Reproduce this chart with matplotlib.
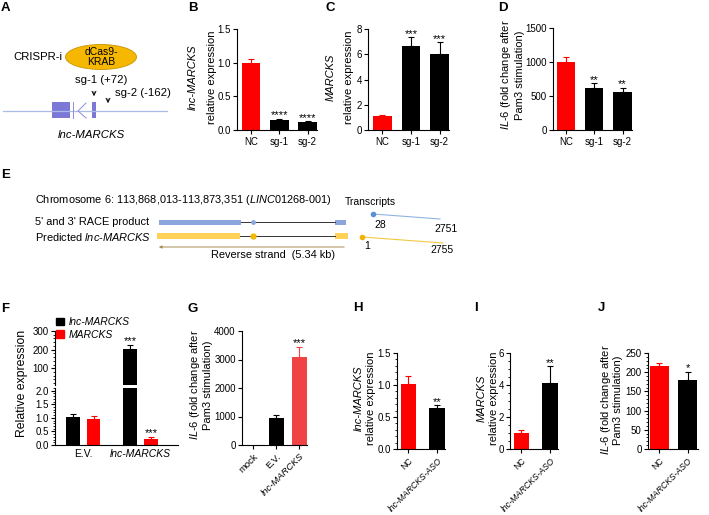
import matplotlib
matplotlib.use("Agg")
import matplotlib.pyplot as plt
from matplotlib.patches import Rectangle, Ellipse, Patch
from matplotlib.ticker import FormatStrFormatter, MultipleLocator

plt.rcParams['font.family'] = ['Liberation Sans', 'DejaVu Sans']
plt.rcParams['mathtext.fontset'] = 'custom'
plt.rcParams['mathtext.rm'] = 'Liberation Sans'
plt.rcParams['mathtext.it'] = 'Liberation Sans:italic'
plt.rcParams['mathtext.bf'] = 'Liberation Sans:bold'
plt.rcParams['axes.linewidth'] = 0.8
plt.rcParams['xtick.major.width'] = 0.8
plt.rcParams['ytick.major.width'] = 0.8
plt.rcParams['xtick.major.size'] = 3
plt.rcParams['ytick.major.size'] = 3
plt.rcParams['ytick.minor.size'] = 1.5
plt.rcParams['ytick.minor.width'] = 0.6
plt.rcParams['xtick.labelsize'] = 7
plt.rcParams['ytick.labelsize'] = 7
plt.rcParams['xtick.major.pad'] = 2
plt.rcParams['ytick.major.pad'] = 1.5

# ---------------- data ----------------
crispr_groups = ["NC", "sg-1", "sg-2"]
crispr_colors = ["#ff0000", "#000000", "#000000"]
b_vals = [1.00, 0.15, 0.12]
b_err = [0.06, 0.02, 0.01]
b_sig = ["", "****", "****"]
c_vals = [1.1, 6.65, 6.05]
c_err = [0.05, 0.7, 0.9]
c_sig = ["", "***", "***"]
d_vals = [1000, 612, 565]
d_err = [80, 73, 60]
d_sig = ["", "**", "**"]

f_groups = ["E.V.", "lnc-MARCKS"]
f_lnc_vals = [1.04, 205]
f_lnc_err = [0.11, 20]
f_lnc_sig = ["", "***"]
f_marcks_vals = [0.96, 0.22]
f_marcks_err = [0.11, 0.07]
f_marcks_sig = ["", "***"]

g_groups = ["mock", "E.V.", "lnc-MARCKS"]
g_colors = ["#000000", "#000000", "#f04444"]
g_vals = [0, 936, 3075]
g_err = [0, 117, 375]
g_sig = ["", "", "***"]

aso_groups = ["NC", "lnc-MARCKS-ASO"]
aso_colors = ["#ff0000", "#000000"]
h_vals = [1.01, 0.64]
h_err = [0.13, 0.04]
h_sig = ["", "**"]
i_vals = [1.02, 4.12]
i_err = [0.15, 1.05]
i_sig = ["", "**"]
j_vals = [215, 179]
j_err = [8, 22]
j_sig = ["", "*"]

transcript_starts = ["28", "1"]
transcript_ends = ["2751", "2755"]

W, H = 709, 515
fig = plt.figure(figsize=(W / 100, H / 100), dpi=100)

STAR_FS = 8
YLAB_FS = 8
ROT_FS = 6.2
DIAG_FS = 8.2


def px_axes(x0, y0, x1, y1):
    return fig.add_axes([x0 / W, 1 - y1 / H, (x1 - x0) / W, (y1 - y0) / H])


def style(ax):
    for s in ["top", "right"]:
        ax.spines[s].set_visible(False)
    ax.tick_params(direction="out")


def bars(ax, xs, vals, errs, colors, sigs, width, ylim):
    ax.bar(xs, vals, width=width, color=colors, edgecolor="none", zorder=2)
    for x, v, e, c, s in zip(xs, vals, errs, colors, sigs):
        if e > 0:
            ax.errorbar([x], [v], yerr=[[0], [e]], fmt="none", ecolor=c,
                        elinewidth=0.8, capsize=2, capthick=0.8, zorder=1)
        if s:
            ax.text(x, v + e - (ylim[1] - ylim[0]) * 0.015, s, ha="center",
                    va="bottom", fontsize=STAR_FS)
    ax.set_ylim(*ylim)


def two_line_ylabel(x1, x2, yc, l1, l2, fs=YLAB_FS, it1=False):
    fig.text(x1 / W, 1 - yc / H, l1, rotation=90, ha="center", va="center",
             fontsize=fs, style="italic" if it1 else "normal")
    fig.text(x2 / W, 1 - yc / H, l2, rotation=90, ha="center", va="center",
             fontsize=fs)


il6_l1 = r"$\mathit{IL}$-$\mathit{6}$ (fold change after"
il6_l2 = "Pam3 stimulation)"

# ---------------- B ----------------
axB = px_axes(237, 29, 317, 130)
style(axB)
bars(axB, range(3), b_vals, b_err, crispr_colors, b_sig, 0.65, (0, 1.5))
axB.set_xlim(-0.5, 2.33)
axB.set_yticks([0, 0.5, 1.0, 1.5])
axB.yaxis.set_major_formatter(FormatStrFormatter('%.1f'))
axB.set_xticks(range(3))
axB.set_xticklabels(crispr_groups)
two_line_ylabel(193, 212, 77, "lnc-MARCKS", "relative expression", it1=True)

# ---------------- C ----------------
axC = px_axes(368, 29, 449, 130)
style(axC)
bars(axC, range(3), c_vals, c_err, crispr_colors, c_sig, 0.65, (0, 8))
axC.set_xlim(-0.5, 2.33)
axC.set_yticks([0, 2, 4, 6, 8])
axC.set_xticks(range(3))
axC.set_xticklabels(crispr_groups)
two_line_ylabel(331, 349, 77, "MARCKS", "relative expression", it1=True)

# ---------------- D ----------------
axD = px_axes(553, 28, 632, 130)
style(axD)
bars(axD, range(3), d_vals, d_err, crispr_colors, d_sig, 0.65, (0, 1500))
axD.set_xlim(-0.45, 2.33)
axD.set_yticks([0, 500, 1000, 1500])
axD.set_xticks(range(3))
axD.set_xticklabels(crispr_groups)
two_line_ylabel(506, 520, 75, il6_l1, il6_l2)

# ---------------- F (broken axis) ----------------
fx = [0, 1]
off = 0.18
bw = 0.24
lnc_x = [x - off for x in fx]
mar_x = [x + off for x in fx]
axFu = px_axes(55, 331, 178, 385)
axFl = px_axes(55, 388, 178, 445)
for ax, yl in [(axFu, (10, 300)), (axFl, (0, 2.1))]:
    style(ax)
    ax.bar(lnc_x, f_lnc_vals, width=bw, color="black", zorder=2)
    ax.bar(mar_x, f_marcks_vals, width=bw, color="#ff0000", zorder=2)
    ax.set_ylim(*yl)
    ax.set_xlim(-0.49, 1.65)
for x, v, e, s in zip(lnc_x, f_lnc_vals, f_lnc_err, f_lnc_sig):
    ax = axFu if v > 2 else axFl
    ax.errorbar([x], [v], yerr=[[0], [e]], fmt="none", ecolor="black",
                elinewidth=0.8, capsize=2, capthick=0.8, zorder=1)
    if s:
        yl = ax.get_ylim()
        ax.text(x, v + e - (yl[1] - yl[0]) * 0.02, s, ha="center", va="bottom",
                fontsize=STAR_FS)
for x, v, e, s in zip(mar_x, f_marcks_vals, f_marcks_err, f_marcks_sig):
    axFl.errorbar([x], [v], yerr=[[0], [e]], fmt="none", ecolor="#ff0000",
                  elinewidth=0.8, capsize=2, capthick=0.8, zorder=1)
    if s:
        axFl.text(x, v + e - 0.03, s, ha="center", va="bottom", fontsize=STAR_FS)
axFu.spines["bottom"].set_visible(False)
axFu.set_xticks([])
axFu.set_yticks([100, 200, 300])
axFu.yaxis.set_minor_locator(MultipleLocator(20))
axFl.set_yticks([0, 0.5, 1.0, 1.5, 2.0])
axFl.yaxis.set_major_formatter(FormatStrFormatter('%.1f'))
axFl.yaxis.set_minor_locator(MultipleLocator(0.1))
axFl.set_xticks(fx)
axFl.set_xticklabels(f_groups, fontsize=7.5)
axFl.tick_params(axis="x", length=0, pad=3)
axFl.get_xticklabels()[1].set_style("italic")
fig.text(22 / W, 1 - 383 / H, "Relative expression", rotation=90,
         ha="center", va="center", fontsize=8.8)
fig.legend([Patch(color="black"), Patch(color="#ff0000")], f_groups[1:] + ["MARCKS"],
           loc="upper left", bbox_to_anchor=(56 / W, 1 - 317 / H), frameon=False,
           handlelength=0.75, handleheight=0.75, handletextpad=0.5,
           labelspacing=0.25, borderaxespad=0, borderpad=0,
           prop={"style": "italic", "size": 7.5})

# ---------------- G ----------------
axG = px_axes(242, 331, 307, 445)
style(axG)
bars(axG, range(3), g_vals, g_err, g_colors, g_sig, 0.65, (0, 4000))
axG.set_xlim(-0.5, 2.33)
axG.set_yticks([0, 1000, 2000, 3000, 4000])
axG.set_xticks(range(3))
axG.set_xticklabels(g_groups, rotation=45, ha="right", rotation_mode="anchor",
                    fontsize=ROT_FS + 0.6)
axG.get_xticklabels()[2].set_style("italic")
two_line_ylabel(195, 208, 385, il6_l1, il6_l2)

# ---------------- H / I / J ----------------
def aso_panel(rect, vals, errs, sigs, ylim, yticks, fmt, minor, xlim, width):
    ax = px_axes(*rect)
    style(ax)
    bars(ax, range(2), vals, errs, aso_colors, sigs, width, ylim)
    ax.set_xlim(*xlim)
    ax.set_yticks(yticks)
    if fmt:
        ax.yaxis.set_major_formatter(FormatStrFormatter(fmt))
    ax.yaxis.set_minor_locator(MultipleLocator(minor))
    ax.set_xticks(range(2))
    ax.set_xticklabels(aso_groups, rotation=45, ha="right", rotation_mode="anchor",
                       fontsize=ROT_FS)
    ax.get_xticklabels()[1].set_style("italic")
    return ax

axH = aso_panel((397, 353, 445, 449), h_vals, h_err, h_sig, (0, 1.5),
                [0, 0.5, 1.0, 1.5], '%.1f', 0.1, (-0.4, 1.27), 0.55)
two_line_ylabel(359, 371, 398, "lnc-MARCKS", "relative expression", it1=True)
axI = aso_panel((510, 353, 558, 449), i_vals, i_err, i_sig, (0, 6),
                [0, 2, 4, 6], None, 0.5, (-0.4, 1.27), 0.55)
two_line_ylabel(482, 494, 398, "MARCKS", "relative expression", it1=True)
axJ = aso_panel((648, 353, 698, 449), j_vals, j_err, j_sig, (0, 250),
                [0, 50, 100, 150, 200, 250], None, 10, (-0.4, 1.37), 0.68)
two_line_ylabel(606, 618, 400, il6_l1, il6_l2)

# ---------------- overlay: A, E diagrams and letters ----------------
ov = fig.add_axes([0, 0, 1, 1])
ov.set_xlim(0, W)
ov.set_ylim(H, 0)
ov.axis("off")
ov.patch.set_visible(False)

for letter, (lx, ly) in {"A": (1, 8), "B": (188, 8), "C": (325, 8), "D": (498, 8),
                         "E": (1, 175), "F": (1, 309), "G": (188, 309),
                         "H": (353, 308), "I": (474, 308), "J": (598, 308)}.items():
    ov.text(lx, ly, letter, fontsize=9.5, fontweight="bold", ha="left", va="center")

# Panel A
ov.text(13, 57, "CRISPR-i", fontsize=DIAG_FS, va="center", ha="left")
ov.add_patch(Ellipse((101, 57), 71, 25, fc="#f5b700", ec="#c99500", lw=0.6))
ov.text(101, 57, "dCas9-\nKRAB", fontsize=7.5, ha="center", va="center", linespacing=1.1)
ov.text(75, 80, "sg-1 (+72)", fontsize=DIAG_FS, ha="left", va="center")
ov.text(115, 93, "sg-2 (-162)", fontsize=DIAG_FS, ha="left", va="center")
ov.annotate("", xy=(94, 99), xytext=(94, 89),
            arrowprops=dict(arrowstyle="->", lw=0.7, color="k", mutation_scale=7))
ov.annotate("", xy=(108, 106), xytext=(108, 96),
            arrowprops=dict(arrowstyle="->", lw=0.7, color="k", mutation_scale=7))
ov.plot([3, 167], [111, 111], color="#a9bbe6", lw=0.9)
ov.add_patch(Rectangle((52, 102), 18, 16, fc="#7b78d6", ec="none"))
ov.plot([73, 73], [102, 118], color="#8f8ede", lw=0.7)
ov.plot([86, 78, 86], [103, 111, 118], color="#8f8ede", lw=0.7)
ov.add_patch(Rectangle((92, 102), 4, 16, fc="#7b78d6", ec="none"))
ov.text(91, 135, "lnc-MARCKS", fontsize=DIAG_FS, style="italic", ha="center", va="center")

# Panel E
EFS = 7.9
ov.text(35, 200, r"Chromosome 6: 113,868,013-113,873,351 ($\mathit{LINC01268}$-$\mathit{001}$)",
        fontsize=EFS, ha="left", va="center")
ov.text(35, 222, "5' and 3' RACE product", fontsize=EFS, ha="left", va="center")
ov.text(35, 237, r"Predicted $\mathit{lnc}$-$\mathit{MARCKS}$", fontsize=EFS, ha="left", va="center")
blue_e = "#8ca6dd"
yel_e = "#ffd257"
ov.add_patch(Rectangle((159, 219.5), 82, 5, fc=blue_e, ec="none"))
ov.plot([241, 335], [222, 222], color="#333333", lw=0.7)
ov.plot([253], [222], "o", ms=2.5, color=blue_e)
ov.add_patch(Rectangle((335, 219.5), 11, 5, fc=blue_e, ec="none"))
ov.add_patch(Rectangle((157, 232.5), 83, 6, fc=yel_e, ec="none"))
ov.plot([240, 335], [235.5, 235.5], color="#333333", lw=0.7)
ov.plot([253], [235.5], "o", ms=3.5, color="#f2b800")
ov.add_patch(Rectangle((335, 232.5), 13, 6, fc=yel_e, ec="none"))
ov.annotate("", xy=(156, 247), xytext=(347, 247),
            arrowprops=dict(arrowstyle="-|>", lw=0.7, color="#a98c55", mutation_scale=4))
ov.text(273, 255, "Reverse strand  (5.34 kb)", fontsize=EFS, ha="center", va="center")
ov.text(345, 202, "Transcripts", fontsize=7.5, ha="left", va="center")
ov.plot([373, 440], [214, 219], color="#8fb4e3", lw=0.8)
ov.plot([373], [214], "o", ms=3, color="#5b8fd6")
ov.text(380, 225, transcript_starts[0], fontsize=7.5, ha="center", va="center")
ov.text(446, 229, transcript_ends[0], fontsize=7.5, ha="center", va="center")
ov.plot([362, 443], [237, 243], color="#f5c842", lw=0.8)
ov.plot([362], [237], "o", ms=3, color="#f2b000")
ov.text(367, 246, transcript_starts[1], fontsize=7.5, ha="center", va="center")
ov.text(442, 250, transcript_ends[1], fontsize=7.5, ha="center", va="center")

fig.savefig("out.png", dpi=100)
